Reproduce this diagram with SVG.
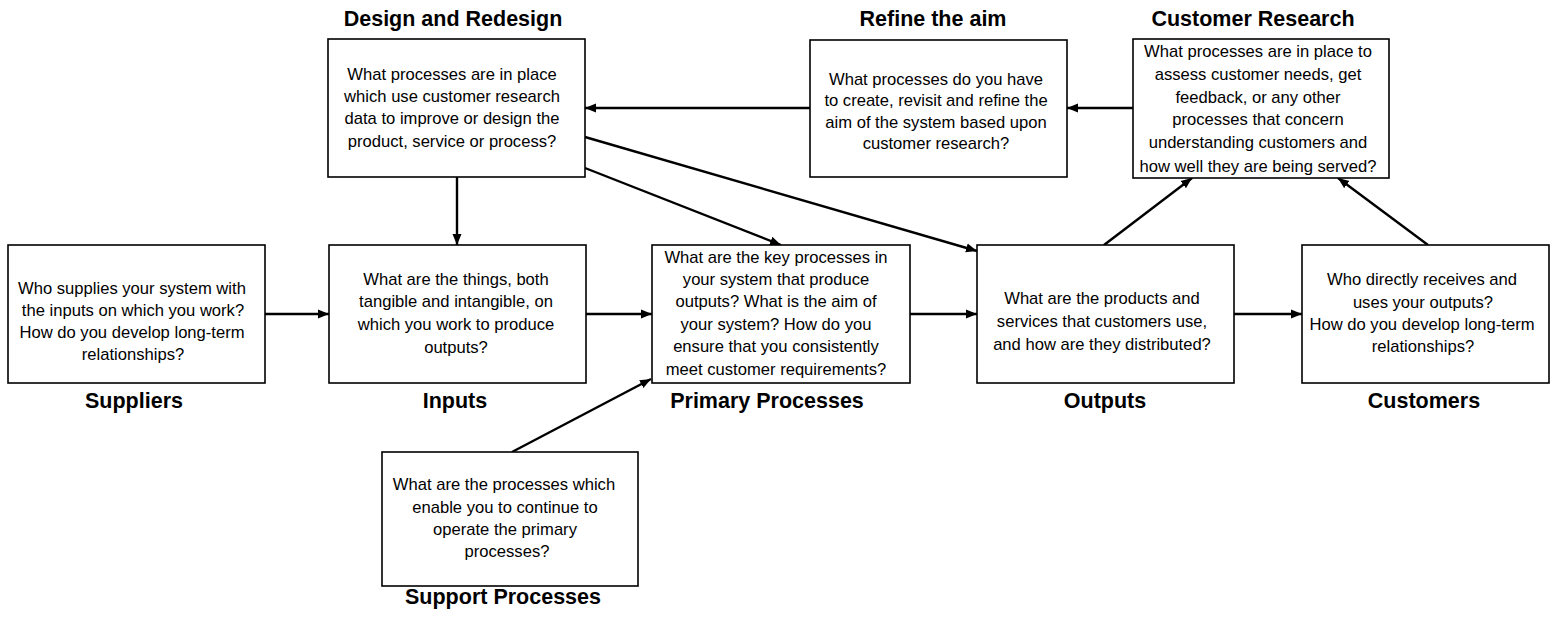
<svg xmlns="http://www.w3.org/2000/svg" width="1551" height="618" viewBox="0 0 1551 618">
  <style>
    .box { fill: #ffffff; stroke: #000000; stroke-width: 1.6; }
    .q { font-family: "Liberation Sans", Arial, sans-serif; font-size: 16.6px; fill: #000000; text-anchor: middle; }
    .title { font-family: "Liberation Sans", Arial, sans-serif; font-size: 21.5px; font-weight: bold; fill: #000000; text-anchor: middle; }
    .link { fill: none; stroke: #000000; stroke-width: 2.4; marker-end: url(#arrow); }
  </style>
  <defs>
    <marker id="arrow" markerUnits="userSpaceOnUse" markerWidth="12" markerHeight="10" refX="11" refY="5" orient="auto">
      <path d="M0,0.5 L11,5 L0,9.5 Z" fill="#000000"/>
    </marker>
  </defs>

  <rect width="1551" height="618" fill="#ffffff"/>

  <!-- connectors -->
  <g id="connectors">
    <line class="link" x1="265" y1="314" x2="329" y2="314"/>
    <line class="link" x1="586" y1="314" x2="652" y2="314"/>
    <line class="link" x1="910" y1="314" x2="977" y2="314"/>
    <line class="link" x1="1234" y1="314" x2="1302" y2="314"/>
    <line class="link" x1="1133" y1="108" x2="1067" y2="108"/>
    <line class="link" x1="810" y1="108" x2="585" y2="108"/>
    <line class="link" x1="457" y1="177" x2="457" y2="245"/>
    <line class="link" x1="585" y1="168" x2="781" y2="245"/>
    <line class="link" x1="585" y1="137" x2="977" y2="251"/>
    <line class="link" x1="512" y1="452" x2="651" y2="379"/>
    <line class="link" x1="1104" y1="245" x2="1192" y2="178"/>
    <line class="link" x1="1428" y1="245" x2="1338" y2="178"/>
  </g>

  <!-- Suppliers -->
  <g id="suppliers">
    <rect class="box" x="8" y="245" width="257" height="138"/>
    <text class="q" x="132" y="294">Who supplies your system with</text>
    <text class="q" x="133" y="316">the inputs on which you work?</text>
    <text class="q" x="132" y="338">How do you develop long-term</text>
    <text class="q" x="133" y="360">relationships?</text>
    <text class="title" x="134" y="408">Suppliers</text>
  </g>

  <!-- Inputs -->
  <g id="inputs">
    <rect class="box" x="329" y="245" width="257" height="138"/>
    <text class="q" x="456" y="285">What are the things, both</text>
    <text class="q" x="456" y="307">tangible and intangible, on</text>
    <text class="q" x="456" y="330">which you work to produce</text>
    <text class="q" x="456" y="353">outputs?</text>
    <text class="title" x="455" y="408">Inputs</text>
  </g>

  <!-- Primary Processes -->
  <g id="primary-processes">
    <rect class="box" x="652" y="245" width="258" height="138"/>
    <text class="q" x="776" y="263">What are the key processes in</text>
    <text class="q" x="776" y="285">your system that produce</text>
    <text class="q" x="776" y="307">outputs? What is the aim of</text>
    <text class="q" x="776" y="330">your system? How do you</text>
    <text class="q" x="776" y="352">ensure that you consistently</text>
    <text class="q" x="776" y="375">meet customer requirements?</text>
    <text class="title" x="767" y="408">Primary Processes</text>
  </g>

  <!-- Outputs -->
  <g id="outputs">
    <rect class="box" x="977" y="245" width="257" height="138"/>
    <text class="q" x="1102" y="304">What are the products and</text>
    <text class="q" x="1102" y="327">services that customers use,</text>
    <text class="q" x="1102" y="350">and how are they distributed?</text>
    <text class="title" x="1105" y="408">Outputs</text>
  </g>

  <!-- Customers -->
  <g id="customers">
    <rect class="box" x="1302" y="245" width="247" height="138"/>
    <text class="q" x="1422" y="285">Who directly receives and</text>
    <text class="q" x="1423" y="308">uses your outputs?</text>
    <text class="q" x="1422" y="330">How do you develop long-term</text>
    <text class="q" x="1423" y="352">relationships?</text>
    <text class="title" x="1424" y="408">Customers</text>
  </g>

  <!-- Support Processes -->
  <g id="support-processes">
    <rect class="box" x="382" y="452" width="256" height="134"/>
    <text class="q" x="504" y="490">What are the processes which</text>
    <text class="q" x="505" y="513">enable you to continue to</text>
    <text class="q" x="505" y="535">operate the primary</text>
    <text class="q" x="507" y="557">processes?</text>
    <text class="title" x="503" y="604">Support Processes</text>
  </g>

  <!-- Design and Redesign -->
  <g id="design-redesign">
    <rect class="box" x="328" y="39" width="257" height="138"/>
    <text class="q" x="452" y="80">What processes are in place</text>
    <text class="q" x="452" y="102">which use customer research</text>
    <text class="q" x="452" y="124">data to improve or design the</text>
    <text class="q" x="452" y="147">product, service or process?</text>
    <text class="title" x="453" y="26">Design and Redesign</text>
  </g>

  <!-- Refine the aim -->
  <g id="refine-aim">
    <rect class="box" x="810" y="40" width="257" height="137"/>
    <text class="q" x="936" y="85">What processes do you have</text>
    <text class="q" x="936" y="106">to create, revisit and refine the</text>
    <text class="q" x="936" y="128">aim of the system based upon</text>
    <text class="q" x="936" y="149">customer research?</text>
    <text class="title" x="933" y="26">Refine the aim</text>
  </g>

  <!-- Customer Research -->
  <g id="customer-research">
    <rect class="box" x="1133" y="39" width="256" height="139"/>
    <text class="q" x="1258" y="57">What processes are in place to</text>
    <text class="q" x="1258" y="80">assess customer needs, get</text>
    <text class="q" x="1258" y="103">feedback, or any other</text>
    <text class="q" x="1258" y="125">processes that concern</text>
    <text class="q" x="1258" y="148">understanding customers and</text>
    <text class="q" x="1258" y="172">how well they are being served?</text>
    <text class="title" x="1253" y="26">Customer Research</text>
  </g>
</svg>
